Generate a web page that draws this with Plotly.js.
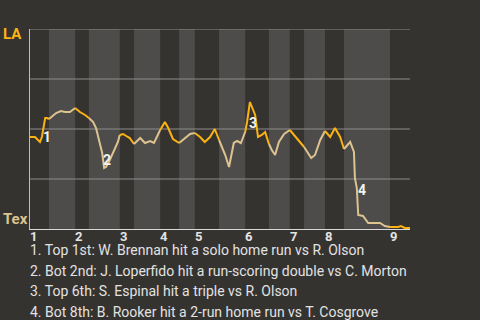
<!DOCTYPE html>
<html>
<head>
<meta charset="utf-8">
<script src="https://cdn.plot.ly/plotly-3.0.1.min.js"></script>
<style>
html,body{margin:0;padding:0;background:#353330;}
#chart{width:480px;height:320px;}
</style>
</head>
<body>
<div id="chart"></div>
<script>
// Play number (game progress) and LA win probability (%)
const playX = [0,1.05,2.1,2.5,3.2,3.6,4,4.8,5.5,6.5,7.4,8.4,9.5,10.5,11.6,12.4,13.3,13.9,14.7,15.2,15.6,16,16.8,17.7,18.5,18.9,19.6,20.6,21,21.9,23.2,24.2,25.3,26.1,26.9,27.4,28.4,29.1,30.1,31.4,32.6,33.7,34.7,35.8,36.8,37.9,38.9,39.8,41.1,41.9,42.9,43.6,44.4,45.3,45.7,46.3,46.7,47.4,48,48.8,49.5,50.3,50.9,51.6,52.4,53.5,54.7,55.6,56.8,57.7,58.5,59.2,60,61.1,62.1,63.2,64.2,65.3,66.1,67.4,68.2,68.4,68.8,69.1,70.1,70.7,71.2,72.6,73.7,74.7,75.8,77.5,78.1,78.9,80];
const laWinPct = [46,46,43.5,46,55.5,55.5,55,56.5,58,59,58.5,58.5,60.5,58.5,57,55.5,53.5,50.5,43.5,38,30.5,31,34.5,39.5,43.5,47,47.5,46,45.5,42.5,45.5,43,44,43,47,49.5,53.5,50.5,45,43,45.5,47.5,48,46,43.5,46,50,44.5,37,31,43,44,43,48.5,53.5,63.5,61,57,46,47,48.5,42.5,39.5,37,43.5,47.5,49.5,47,43.5,41,38,35.5,37,44.5,49,46,50.5,46,40,43.5,38.5,25.5,20.5,7,6.5,4.5,3,3,3,1.5,1,1,1.5,0.5,0.5];

// Half-inning boundaries (play number): start of top and start of bottom per inning
const inningLabels = ["1","2","3","4","5","6","7","8","9"];
const topStart = [0,9.5,18.9,27.4,34.7,45.3,54.7,62.1,75.8];
const botStart = [4,12.4,21.9,31.4,39.8,50.3,57.7,66.1,null];
const gameEnd = 80;
const gridValues = [25, 50, 75, 100];

// Key plays
const keyLabels = ["1","2","3","4"];
const keyX = [3.6,16.2,47,69.9];
const keyY = [46,34.5,53,19.5];
const keyText = [
  "1. Top 1st: W. Brennan hit a solo home run vs R. Olson",
  "2. Bot 2nd: J. Loperfido hit a run-scoring double vs C. Morton",
  "3. Top 6th: S. Espinal hit a triple vs R. Olson",
  "4. Bot 8th: B. Rooker hit a 2-run home run vs T. Cosgrove"
];

const laColor = "#fcb213";
const texColor = "#dcc38f";

const traces = [];
const shapes = [];
const seg = (a, b) => {
  const xs = [], ys = [];
  for (let k = 0; k < playX.length; k++) {
    if (playX[k] >= a - 1e-9 && playX[k] <= b + 1e-9) { xs.push(playX[k]); ys.push(laWinPct[k]); }
  }
  return {xs, ys};
};
for (let i = 0; i < inningLabels.length; i++) {
  const ts = topStart[i];
  const bs = botStart[i];
  const nextTop = i + 1 < topStart.length ? topStart[i + 1] : gameEnd;
  const te = bs === null ? nextTop : bs;
  const t = seg(ts, te);
  traces.push({x: t.xs, y: t.ys, type: "scatter", mode: "lines", line: {color: laColor, width: 2}, hoverinfo: "skip", showlegend: false});
  if (bs !== null) {
    const b = seg(bs, nextTop);
    traces.push({x: b.xs, y: b.ys, type: "scatter", mode: "lines", line: {color: texColor, width: 2}, hoverinfo: "skip", showlegend: false});
    shapes.push({type: "rect", xref: "x", yref: "paper", x0: bs, x1: nextTop, y0: 0, y1: 1, fillcolor: "#4d4c4a", line: {width: 0}, layer: "below"});
  }
}
gridValues.forEach(v => {
  shapes.push({type: "line", xref: "paper", yref: "y", x0: 0, x1: 1, y0: v, y1: v, line: {color: "#8c8c8c", width: 1}, layer: "below"});
});

const annotations = [];
inningLabels.forEach((lab, i) => {
  annotations.push({x: topStart[i], y: -0.036, xref: "x", yref: "paper", xanchor: "left", yanchor: "middle", xshift: -2, text: lab, showarrow: false, font: {family: "Roboto", size: 13, color: "#e4e4e4", weight: "bold"}});
});
keyLabels.forEach((lab, i) => {
  annotations.push({x: keyX[i], y: keyY[i], xref: "x", yref: "y", text: lab, showarrow: false, font: {family: "Roboto", size: 14, color: "#f2f2f2", weight: "bold"}});
});
keyText.forEach((t, i) => {
  annotations.push({x: -0.005, y: -0.104 - 0.104 * i, xref: "paper", yref: "paper", xanchor: "left", yanchor: "middle", text: t, showarrow: false, font: {family: "Roboto", size: 14, color: "#e2e2e2"}});
});
annotations.push({x: -0.076, y: 0.975, xref: "paper", yref: "paper", xanchor: "left", yanchor: "middle", text: "LA", showarrow: false, font: {family: "Roboto", size: 15, color: laColor, weight: "bold"}});
annotations.push({x: -0.076, y: 0.048, xref: "paper", yref: "paper", xanchor: "left", yanchor: "middle", text: "Tex", showarrow: false, font: {family: "Roboto", size: 15, color: texColor, weight: "bold"}});

const layout = {
  width: 480, height: 320,
  margin: {l: 30, r: 70, t: 29, b: 91, pad: 0},
  paper_bgcolor: "#353330",
  plot_bgcolor: "#353330",
  showlegend: false,
  xaxis: {range: [0, gameEnd], showgrid: false, zeroline: false, showticklabels: false, ticks: "", showline: true, linecolor: "#d8d8d8", linewidth: 1, fixedrange: true},
  yaxis: {range: [0, 100], showgrid: false, zeroline: false, showticklabels: false, ticks: "", showline: true, linecolor: "#bdbdbd", linewidth: 1, fixedrange: true},
  shapes: shapes,
  annotations: annotations
};

Plotly.newPlot("chart", traces, layout, {staticPlot: true, displayModeBar: false});
</script>
</body>
</html>
